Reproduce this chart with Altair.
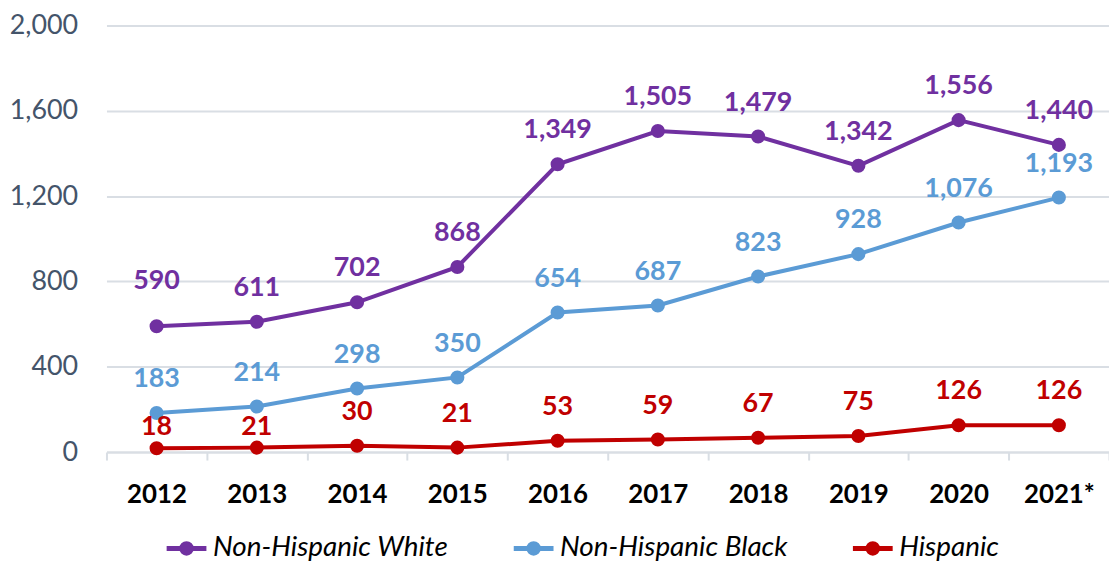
import altair as alt
import pandas as pd

years = ["2012", "2013", "2014", "2015", "2016", "2017", "2018", "2019", "2020", "2021*"]
white = [590, 611, 702, 868, 1349, 1505, 1479, 1342, 1556, 1440]
black = [183, 214, 298, 350, 654, 687, 823, 928, 1076, 1193]
hispanic = [18, 21, 30, 21, 53, 59, 67, 75, 126, 126]

series_names = ["Non-Hispanic White", "Non-Hispanic Black", "Hispanic"]
series_colors = ["#7030A0", "#5B9BD5", "#C00000"]

rows = []
for name, vals in zip(series_names, [white, black, hispanic]):
    for y, v in zip(years, vals):
        rows.append({"year": y, "value": v, "group": name})
df = pd.DataFrame(rows)

FONT = "Lato"
color = alt.Color(
    "group:N",
    scale=alt.Scale(domain=series_names, range=series_colors),
    legend=alt.Legend(
        title=None,
        orient="none",
        direction="horizontal",
        legendX=58,
        legendY=503,
        symbolType="M-1,0L1,0M-0.24,0a0.24,0.24 0 1,0 0.48,0a0.24,0.24 0 1,0 -0.48,0M-0.13,0a0.13,0.13 0 1,0 0.26,0a0.13,0.13 0 1,0 -0.26,0M-0.04,0a0.04,0.04 0 1,0 0.08,0a0.04,0.04 0 1,0 -0.08,0",
        symbolSize=1600,
        symbolStrokeWidth=5,
        labelFont=FONT,
        labelFontSize=28,
        labelFontStyle="italic",
        labelColor="#000000",
        labelOffset=4,
        labelLimit=0,
        columnPadding=55,
    ),
)

x = alt.X(
    "year:O",
    sort=years,
    title=None,
    scale=alt.Scale(type="band", paddingInner=0, paddingOuter=0),
    axis=alt.Axis(
        labelAngle=0,
        labelFont=FONT,
        labelFontSize=26,
        labelFontWeight="bold",
        labelColor="#000000",
        labelPadding=22,
        tickBand="extent",
        ticks=True,
        tickSize=8,
        tickWidth=2,
        tickColor="#D9DEE4",
        domainColor="#D9DEE4",
        domainWidth=2,
        grid=False,
    ),
)
y = alt.Y(
    "value:Q",
    title=None,
    scale=alt.Scale(domain=[0, 2000], nice=False),
    axis=alt.Axis(
        values=[0, 400, 800, 1200, 1600, 2000],
        format=",d",
        labelFont=FONT,
        labelFontSize=27,
        labelColor="#44546A",
        labelPadding=29,
        ticks=False,
        domain=False,
        grid=True,
        gridColor="#D9DEE4",
        gridWidth=2,
    ),
)

base = alt.Chart(df)
lines = base.mark_line(strokeWidth=4).encode(x=x, y=y, color=color)
points = base.mark_circle(size=200, opacity=1).encode(
    x=x, y=y, color=alt.Color("group:N", scale=alt.Scale(domain=series_names, range=series_colors), legend=None)
)

label_color = alt.Color("group:N", scale=alt.Scale(domain=series_names, range=series_colors), legend=None)


def labels(dy, cond):
    return base.transform_filter(cond).mark_text(
        font=FONT, fontSize=27, fontWeight="bold", dy=dy, baseline="middle"
    ).encode(x=x, y=y, text=alt.Text("value:Q", format=",d"), color=label_color)


low_red = "datum.group == 'Hispanic' && (datum.year == '2012' || datum.year == '2013')"
high_white = "datum.group == 'Non-Hispanic White' && datum.year == '2012'"
normal = f"!({low_red}) && !({high_white})"

chart = alt.layer(
    lines,
    points,
    labels(-34, normal),
    labels(-21, low_red),
    labels(-45, high_white),
).properties(
    width=1008,
    height=429,
    padding={"left": 99, "top": 16, "right": 0, "bottom": 109},
    autosize=alt.AutoSizeParams(type="none"),
).configure_view(stroke=None)

chart.save("out.html", embed_options={"renderer": "svg", "actions": False})
